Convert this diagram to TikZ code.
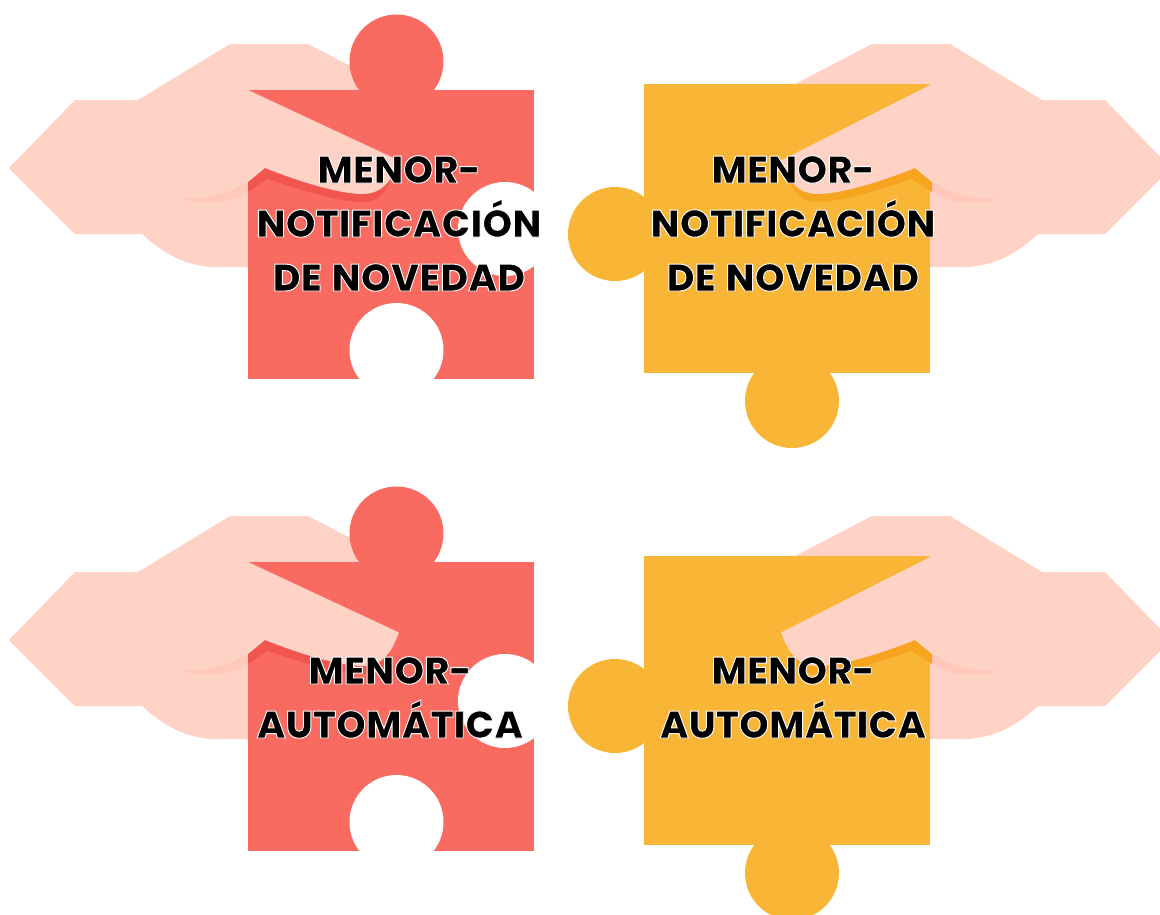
\documentclass[tikz,border=0pt]{standalone}
\usepackage{fontspec}
\setmainfont{Poppins}[BoldFont=Poppins Bold]
\newfontfamily\lbl{Poppins ExtraBold}[FakeBold=2.5,WordSpace=1.35]
\definecolor{handc}{HTML}{FFD2C6}
\definecolor{shadeh}{HTML}{FFC8BA}
\definecolor{redp}{HTML}{F96A60}
\definecolor{redb}{HTML}{F2554D}
\definecolor{yelp}{HTML}{F9B636}
\definecolor{yelb}{HTML}{F7A520}
\tikzset{
  handfill/.style={fill=handc,draw=none},
  piecefill/.style={fill=#1,draw=none},
  holefill/.style={fill=white,draw=none},
  lbltext/.style={font=\lbl\fontsize{38.2bp}{54bp}\selectfont,align=center,text=black,inner sep=0pt,anchor=base}
}
\newcommand{\wbegin}{\special{pdf:bcolor [0 0 0] [1 1 1]}}
\newcommand{\wend}{\special{pdf:ecolor}}
% hand back
\newcommand{\handback}{
  \path[handfill] (9,168) -- (75,100) -- (138,100) -- (230,44) -- (308,44) -- (385,84) -- (385,267) -- (212,267)
    .. controls (185,265) and (165,255) .. (142,234) -- (75,234) -- cycle;
}
% shadow band and finger; #1 y of corner, #2 band colour
\newcommand{\fingerover}[2]{
  \begin{scope}
    \clip (150,150) rectangle (248,230);
    \path[fill=shadeh] (182,199) .. controls (212,207) and (232,201) .. (248,192) -- (268,179) -- (265,168) .. controls (245,188) and (215,200) .. cycle;
  \end{scope}
  \begin{scope}
    \clip (248,150) rectangle (420,230);
    \path[fill=#2] (182,199) .. controls (212,207) and (232,201) .. (248,192) -- (268,179)
      .. controls (310,193) and (340,202) .. (364,202) .. controls (376,202) and (384,195) .. (390,182) -- (265,168) -- cycle;
  \end{scope}
  \path[handfill] (200,#1) -- (248,#1) -- (399,160.5) .. controls (394,172) and (388,194) .. (362,194)
     .. controls (340,194) and (300,182) .. (265,168) -- (248,182) -- (200,182) -- cycle;
}
\newcommand{\redpiece}{
  \handback
  \path[piecefill=redp] (248,90) rectangle (534,379);
  \path[piecefill=redp] (396.5,61.5) circle[radius=47];
  \path[holefill] (396.5,350) circle[radius=47];
  \path[holefill] (505,229) circle[radius=47];
  \path[holefill] (534,160) rectangle (560,300);
  \path[holefill] (340,379) rectangle (450,400);
  \fingerover{90}{redb}
}
\newcommand{\yelpiece}{
  \begin{scope}[shift={(1180,0)},x=-1bp]
    \handback
  \end{scope}
  \path[piecefill=yelp] (644,84) rectangle (930,373);
  \path[piecefill=yelp] (615,234) circle[radius=47];
  \path[piecefill=yelp] (792,401) circle[radius=47];
  \begin{scope}[shift={(1180,0)},x=-1bp]
    \fingerover{84}{yelb}
  \end{scope}
}
\begin{document}
\begin{tikzpicture}[x=1bp,y=-1bp]
\useasboundingbox (0,0) rectangle (1160,915);
\clip (0,0) rectangle (1160,915);
\redpiece
\yelpiece
\begin{scope}[shift={(0,472)}]
\redpiece
\yelpiece
\end{scope}
\node[lbltext] (a) at (399,291) {\wbegin MENOR-\\NOTIFICACIÓN\\DE NOVEDAD\wend};
\node[lbltext] (b) at (793,291) {\wbegin MENOR-\\NOTIFICACIÓN\\DE NOVEDAD\wend};
\node[lbltext] (c) at (390,738) {\wbegin MENOR-\\AUTOMÁTICA\wend};
\node[lbltext] (d) at (793,738) {\wbegin MENOR-\\AUTOMÁTICA\wend};
\end{tikzpicture}
\end{document}
